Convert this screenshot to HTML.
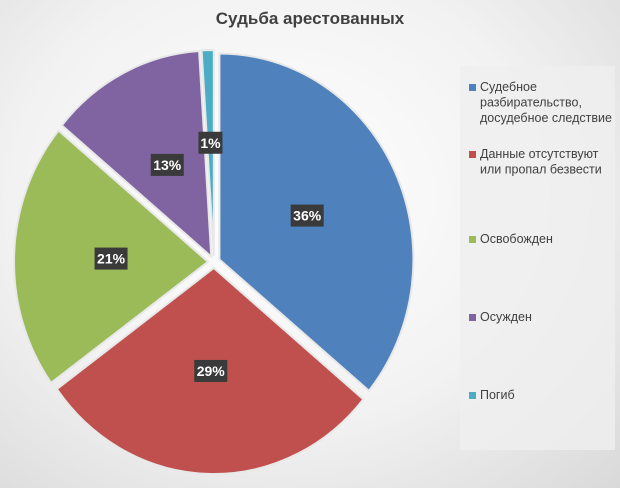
<!DOCTYPE html>
<html><head><meta charset="utf-8"><style>
body{margin:0;width:620px;height:488px;overflow:hidden;font-family:"Liberation Sans","DejaVu Sans",sans-serif;}
#bg{position:absolute;left:0;top:0;width:620px;height:488px;background:radial-gradient(ellipse at 45% 40%,#ffffff 0%,#f2f2f2 55%,#d9d9d9 100%);}
svg{position:absolute;left:0;top:0}
</style></head><body>
<div id="bg"></div>
<svg id="chart" width="620" height="488">
<text x="310" y="24" text-anchor="middle" font-size="17" font-weight="bold" fill="#404040">Судьба арестованных</text>
<rect x="460" y="66" width="155" height="384" fill="#efefef" opacity="0.8"/>
<g id="slices"></g><g id="labels"></g><g id="legend"></g>
</svg>
<script>
const categories=["Судебное разбирательство, досудебное следствие","Данные отсутствуют или пропал безвести","Освобожден","Осужден","Погиб"];
const values=[36,29,21,13,1];
const colors=["#4f81bd","#c0504d","#9bbb59","#8064a2","#4bacc6"];
const legendLines=[["Судебное","разбирательство,","досудебное следствие"],["Данные отсутствуют","или пропал безвести"],["Освобожден"],["Осужден"],["Погиб"]];
const cx=214,cy=262,rx=194,ry=206,ex=6;
const NS="http://www.w3.org/2000/svg";
const total=values.reduce((a,b)=>a+b,0);
let cum=0;
const sg=document.getElementById('slices'),lg=document.getElementById('labels'),leg=document.getElementById('legend');
values.forEach((v,i)=>{
 const a0=cum/total*2*Math.PI;cum+=v;const a1=cum/total*2*Math.PI;const am=(a0+a1)/2;
 const ox=cx+ex*Math.sin(am),oy=cy-ex*Math.cos(am);
 const p=(a,f)=>[ox+rx*f*Math.sin(a),oy-ry*f*Math.cos(a)];
 const s=p(a0,1),e=p(a1,1);
 const path=document.createElementNS(NS,'path');
 path.setAttribute('d',`M${ox},${oy}L${s[0]},${s[1]}A${rx},${ry} 0 ${a1-a0>Math.PI?1:0} 1 ${e[0]},${e[1]}Z`);
 path.setAttribute('fill',colors[i]);path.setAttribute('stroke','#e8e8e8');path.setAttribute('stroke-width','2');
 
 
 sg.appendChild(path);
 const f=v<5?0.55:0.5;const lp=p(am,f);
 const t=v+'%';const w=t.length*9+6;
 const r=document.createElementNS(NS,'rect');
 r.setAttribute('x',lp[0]-w/2);r.setAttribute('y',lp[1]-11);r.setAttribute('width',w);r.setAttribute('height',22);r.setAttribute('fill','#3a3a3a');
 
 
 lg.appendChild(r);
 const tx=document.createElementNS(NS,'text');
 tx.setAttribute('x',lp[0]);tx.setAttribute('y',lp[1]+5);tx.setAttribute('text-anchor','middle');tx.setAttribute('font-size','14');tx.setAttribute('font-weight','bold');tx.setAttribute('fill','#fff');tx.textContent=t;
 
 
 lg.appendChild(tx);
 const ly=[90,157,242,320,398][i];
 const sq=document.createElementNS(NS,'rect');
 sq.setAttribute('x',469);sq.setAttribute('y',ly-6);sq.setAttribute('width',7);sq.setAttribute('height',7);sq.setAttribute('fill',colors[i]);
 
 
 leg.appendChild(sq);
 legendLines[i].forEach((ln,j)=>{
  const lt=document.createElementNS(NS,'text');
  lt.setAttribute('x',480);lt.setAttribute('y',ly+1+j*15.5);lt.setAttribute('font-size','12.5');lt.setAttribute('fill','#404040');lt.textContent=ln;
  
  
  leg.appendChild(lt);
 });
});
</script>
</body></html>
